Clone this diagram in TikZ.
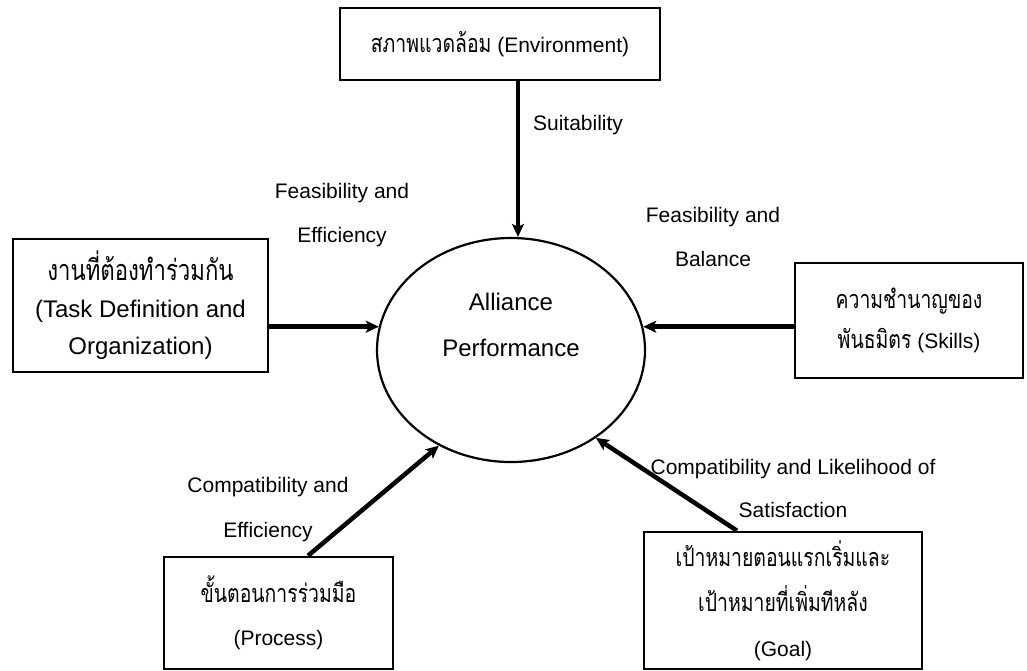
\documentclass[tikz,border=0pt]{standalone}
\usepackage{fontspec}
\setmainfont{Liberation Sans}
\newfontfamily\thai[Script=Thai,Scale=1.2,FakeStretch=0.77]{Loma}
\usetikzlibrary{shapes.geometric,arrows.meta}
\begin{document}
\begin{tikzpicture}[x=1pt,y=-1pt,
  box/.style={draw,line width=2.6pt,align=center,inner sep=0pt},
  lbl/.style={align=center,inner sep=0pt,font=\fontsize{21}{#1}\selectfont},
  arr/.style={line width=4.5pt,-{Stealth[length=13pt,width=12pt,inset=3pt]}}]
\useasboundingbox (0,0) rectangle (1027,670);
\begin{scope}
\clip (0,0) rectangle (1027,670);

% central outcome
\node[ellipse,draw,line width=2.2pt,minimum width=268pt,minimum height=224pt,
      inner sep=0pt] (ap) at (511,350) {};
\node[align=center,inner sep=0pt,font=\fontsize{24}{46}\selectfont]
  (aptext) at ([yshift=25pt]ap.center) {Alliance\\Performance};

% factor boxes
\node[box,font=\fontsize{21}{36}\selectfont,minimum width=320pt,minimum height=72pt]
  (env) at (500,44) {{\thai สภาพแวดล้อม} (Environment)};
\node[box,font=\fontsize{24}{37}\selectfont,minimum width=255pt,minimum height=133pt]
  (task) at (140.5,305.5)
  {{\thai งานที่ต้องทำร่วมกัน}\\(Task Definition and\\Organization)};
\node[box,font=\fontsize{21}{40}\selectfont,minimum width=228pt,minimum height=115pt]
  (skills) at (909,320.5) {{\thai ความชำนาญของ}\\{\thai พันธมิตร} (Skills)};
\node[box,font=\fontsize{21}{43}\selectfont,minimum width=229pt,minimum height=112pt]
  (proc) at (278.5,613) {{\thai ขั้นตอนการร่วมมือ}\\(Process)};
\node[box,font=\fontsize{21}{45}\selectfont,minimum width=278pt,minimum height=137pt]
  (goal) at (783,600.5)
  {{\thai เป้าหมายตอนแรกเริ่มและ}\\{\thai เป้าหมายที่เพิ่มทีหลัง}\\(Goal)};

% arrow end points
\coordinate (topin) at ([xshift=7pt]ap.north);
\coordinate (procout) at ([xshift=29.5pt]proc.north);
\coordinate (goalout) at ([xshift=-46pt]goal.north);

% connectors
\draw[arr] (env.south -| topin) -- (topin);
\draw[arr] (task.east |- ap.170) -- (ap.170);
\draw[arr] (skills.west |- ap.10) -- (ap.10);
\draw[arr] (procout) -- (ap.233);
\draw[arr] (goalout) -- (ap.314);

% connector labels
\node[lbl=44] (l1) at (578,125) {Suitability};
\node[lbl=44] (l2) at (342,215) {Feasibility and\\Efficiency};
\node[lbl=44] (l3) at (713,237) {Feasibility and\\Balance};
\node[lbl=45] (l4) at (268,510) {Compatibility and\\Efficiency};
\node[lbl=43] (l5) at (793,488) {Compatibility and Likelihood of\\Satisfaction};
\end{scope}
\end{tikzpicture}
\end{document}
